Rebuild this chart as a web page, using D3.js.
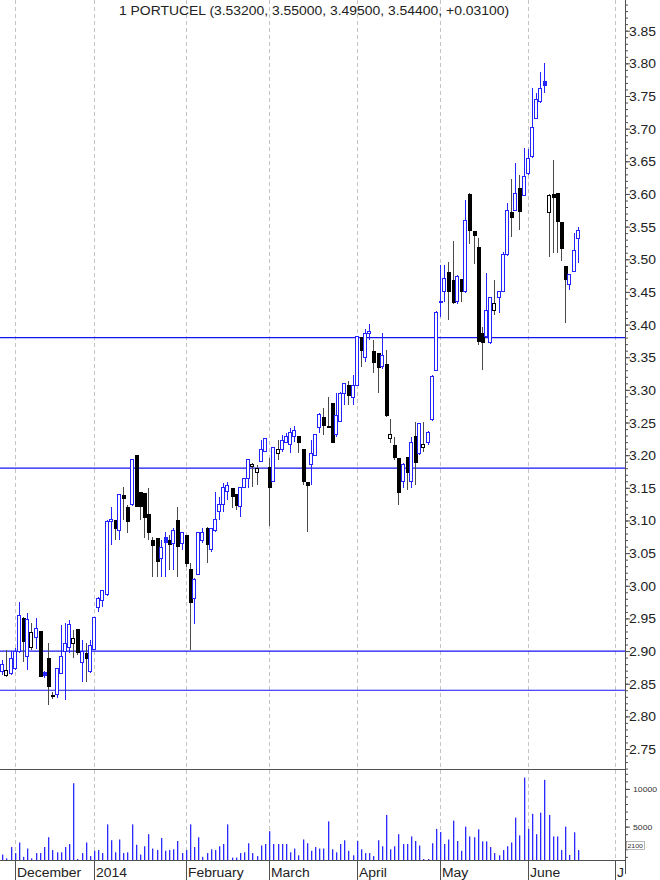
<!DOCTYPE html>
<html><head><meta charset="utf-8">
<script src="https://cdnjs.cloudflare.com/ajax/libs/d3/7.8.5/d3.min.js"></script>
<style>body{margin:0;background:#fff}svg{display:block}</style>
</head><body>
<svg id="c" width="660" height="880"></svg>
<script>
// ---------- data (bar index k starts at firstIndex; k=0 is the first December session) ----------
const symbol = "1 PORTUCEL";
const firstIndex = -3;
const opens = [2.868,2.862,2.866,2.874,2.899,2.951,2.891,2.905,2.921,2.931,2.868,2.889,2.833,2.833,2.866,2.899,2.905,2.911,2.934,2.882,2.897,2.868,2.902,2.966,2.978,2.986,3.098,3.101,3.085,3.139,3.121,3.124,3.200,3.144,3.142,3.110,3.070,3.073,3.041,3.075,3.070,3.064,3.101,3.065,3.078,3.026,2.981,3.018,3.070,3.088,3.055,3.084,3.113,3.124,3.144,3.150,3.140,3.121,3.151,3.165,3.182,3.173,3.191,3.206,3.182,3.160,3.202,3.208,3.220,3.216,3.229,3.229,3.209,3.159,3.186,3.200,3.242,3.258,3.245,3.280,3.231,3.251,3.295,3.307,3.289,3.307,3.381,3.349,3.386,3.359,3.356,3.335,3.340,3.226,3.216,3.196,3.159,3.197,3.160,3.229,3.202,3.212,3.219,3.254,3.330,3.436,3.450,3.480,3.468,3.435,3.470,3.451,3.600,3.543,3.519,3.387,3.381,3.372,3.421,3.441,3.451,3.507,3.572,3.575,3.609,3.598,3.631,3.657,3.716,3.741,3.773,3.572,3.600,3.601,3.557,3.490,3.461,3.482,3.532];
const highs = [2.886,2.902,2.900,2.905,2.975,2.952,2.958,2.943,2.951,2.931,2.870,2.912,2.837,2.874,2.940,2.943,2.948,2.932,2.934,2.917,2.912,2.917,2.951,2.983,2.993,3.101,3.121,3.101,3.140,3.151,3.124,3.193,3.200,3.144,3.142,3.150,3.075,3.073,3.070,3.082,3.078,3.088,3.121,3.081,3.078,3.035,3.012,3.081,3.088,3.090,3.088,3.144,3.136,3.157,3.159,3.150,3.140,3.150,3.165,3.194,3.188,3.185,3.223,3.225,3.196,3.212,3.223,3.231,3.234,3.242,3.245,3.229,3.209,3.159,3.223,3.232,3.265,3.272,3.289,3.280,3.295,3.297,3.309,3.314,3.323,3.382,3.381,3.393,3.401,3.376,3.356,3.387,3.361,3.255,3.228,3.196,3.188,3.197,3.228,3.251,3.249,3.251,3.237,3.323,3.421,3.491,3.491,3.496,3.528,3.476,3.470,3.591,3.601,3.543,3.532,3.396,3.479,3.441,3.468,3.450,3.511,3.586,3.623,3.647,3.629,3.670,3.669,3.762,3.754,3.787,3.801,3.600,3.652,3.601,3.557,3.490,3.476,3.540,3.550];
const lows = [2.863,2.860,2.863,2.871,2.897,2.883,2.871,2.902,2.903,2.860,2.858,2.817,2.826,2.828,2.865,2.825,2.897,2.889,2.894,2.853,2.853,2.866,2.902,2.960,2.967,2.984,3.062,3.070,3.070,3.101,3.081,3.122,3.121,3.101,3.073,3.070,3.013,3.013,3.013,3.013,3.024,3.024,3.013,3.055,3.029,2.902,2.941,3.016,3.065,3.035,3.052,3.082,3.101,3.113,3.131,3.119,3.116,3.105,3.150,3.150,3.151,3.154,3.189,3.205,3.092,3.159,3.193,3.205,3.219,3.203,3.220,3.203,3.154,3.082,3.154,3.199,3.234,3.231,3.242,3.219,3.228,3.251,3.277,3.277,3.277,3.306,3.335,3.343,3.376,3.326,3.295,3.332,3.258,3.219,3.193,3.124,3.150,3.147,3.150,3.154,3.200,3.205,3.216,3.252,3.329,3.412,3.435,3.407,3.432,3.432,3.435,3.448,3.523,3.493,3.369,3.330,3.379,3.370,3.415,3.418,3.450,3.505,3.534,3.574,3.545,3.597,3.629,3.655,3.715,3.740,3.755,3.503,3.510,3.510,3.497,3.402,3.453,3.480,3.495];
const closes = [2.879,2.871,2.889,2.899,2.954,2.914,2.948,2.929,2.935,2.860,2.862,2.845,2.830,2.873,2.891,2.912,2.941,2.920,2.897,2.899,2.888,2.909,2.951,2.980,2.993,3.099,3.101,3.087,3.140,3.133,3.098,3.193,3.121,3.121,3.104,3.081,3.061,3.036,3.059,3.065,3.062,3.084,3.059,3.081,3.033,2.974,3.010,3.081,3.082,3.062,3.088,3.101,3.124,3.151,3.153,3.136,3.122,3.150,3.165,3.194,3.185,3.180,3.208,3.225,3.150,3.212,3.208,3.223,3.228,3.235,3.238,3.219,3.159,3.153,3.203,3.231,3.263,3.245,3.242,3.219,3.261,3.295,3.309,3.290,3.306,3.381,3.359,3.387,3.389,3.341,3.333,3.352,3.260,3.231,3.196,3.142,3.186,3.173,3.219,3.188,3.248,3.217,3.235,3.321,3.418,3.433,3.470,3.450,3.433,3.473,3.450,3.560,3.543,3.536,3.373,3.372,3.421,3.441,3.433,3.450,3.507,3.574,3.563,3.601,3.572,3.627,3.654,3.702,3.744,3.762,3.765,3.598,3.594,3.557,3.516,3.468,3.476,3.513,3.544];
const volumes = [1300,800,2300,1500,2900,1000,2100,800,1500,1500,2300,3600,1900,1600,1600,2300,2700,10750,700,1500,2900,1100,1800,1900,1500,5300,3200,1600,3300,1500,1600,5300,2600,1300,2400,4000,2100,1900,3500,1800,1900,2000,3100,1500,1900,5300,2300,3600,1000,1500,2000,1900,2400,2700,5300,900,900,1500,1600,2800,1500,1100,2500,2700,4400,2700,2700,2700,2700,1600,2100,1200,3300,2800,1800,2300,2100,2100,5700,2000,1600,2700,3200,1800,1200,3100,2000,1500,1500,1100,3200,2400,6550,2000,2400,4000,2700,2700,3700,3100,2500,700,600,2800,4700,4300,2700,3300,5800,3100,1800,5000,3700,3600,4650,3050,3050,2300,1500,1200,1900,2400,2900,6200,3850,11500,4700,6700,4000,6850,11200,6550,3700,3700,1900,5000,1250,4250,1900];
const monthLabels = ["December","2014","February","March","April","May","June","July"];
const monthStartIndex = [0,19,41,61,82,102,123,144];
const levelLines = [3.38,3.18,2.90,2.84];
const priceTicks = [2.75,2.80,2.85,2.90,2.95,3.00,3.05,3.10,3.15,3.20,3.25,3.30,3.35,3.40,3.45,3.50,3.55,3.60,3.65,3.70,3.75,3.80,3.85];
const volumeTicks = [5000,10000];

// ---------- layout ----------
const W = 660, H = 880;
const axisX = 625, priceBottom = 769, volBottom = 860;
const blue = "#2424ff", lineBlue = "#1414f0", volBlue = "#2a2aff";
const FONT = "'Liberation Sans', Arial, sans-serif";
const SX = 1.16; // horizontal stretch of the reference's text

const svg = d3.select("#c");
const x = d3.scaleLinear().domain([0, 144]).range([14.8, 615.3]);
const y = d3.scaleLinear().domain([2.7194, 3.897]).range([priceBottom, 0]);
const v = d3.scaleLinear().domain([0, 10000]).range([864.4, 788.9]);

const bars = opens.map((o, i) => ({
  k: firstIndex + i, o, h: highs[i], l: lows[i], c: closes[i], vol: volumes[i],
  prev: i > 0 ? closes[i - 1] : o
}));

svg.append("defs").append("clipPath").attr("id", "plot")
  .append("rect").attr("x", 0).attr("y", 0).attr("width", axisX).attr("height", volBottom);

// month gridlines
svg.append("g").selectAll("line").data(monthStartIndex).join("line")
  .attr("x1", d => Math.round(x(d)) + 0.5).attr("x2", d => Math.round(x(d)) + 0.5)
  .attr("y1", 0).attr("y2", volBottom)
  .attr("stroke", "#c4c4c4").attr("stroke-dasharray", "4,3");

// title
const last = bars[bars.length - 1];
const chg = last.c - last.prev;
const f5 = d3.format(".5f");
svg.append("text")
  .attr("transform", `translate(314,15) scale(${SX},1)`)
  .attr("text-anchor", "middle").attr("font-family", FONT).attr("font-size", 12).attr("fill", "#222")
  .text(`${symbol} (${f5(last.o)}, ${f5(last.h)}, ${f5(last.l)}, ${f5(last.c)}, ${chg >= 0 ? "+" : ""}${f5(chg)})`);

const plot = svg.append("g").attr("clip-path", "url(#plot)");

// level lines
plot.append("g").selectAll("line").data(levelLines).join("line")
  .attr("x1", 0).attr("x2", axisX)
  .attr("y1", d => y(d)).attr("y2", d => y(d))
  .attr("stroke", lineBlue).attr("stroke-width", 1.2);

// candles
const cg = plot.append("g").attr("shape-rendering", "crispEdges");
bars.forEach(b => {
  const X = Math.round(x(b.k));
  const up = b.c > b.prev;
  const col = up ? blue : "#000";
  const wickCol = up ? blue : "#4a4a4a";
  const hollow = b.c >= b.o;
  cg.append("line").attr("x1", X + 0.5).attr("x2", X + 0.5)
    .attr("y1", y(b.h)).attr("y2", y(b.l)).attr("stroke", wickCol);
  const top = y(Math.max(b.o, b.c)), bot = y(Math.min(b.o, b.c));
  if (hollow) {
    cg.append("rect").attr("x", X - 1.5).attr("width", 3)
      .attr("y", top).attr("height", Math.max(1, bot - top))
      .attr("fill", "#fff").attr("stroke", col).attr("stroke-width", 1);
  } else {
    cg.append("rect").attr("x", X - 1.5).attr("width", 4)
      .attr("y", top).attr("height", Math.max(2, bot - top))
      .attr("fill", col);
  }
});

// volume bars
plot.append("g").selectAll("rect").data(bars).join("rect")
  .attr("x", d => Math.round(x(d.k))).attr("width", 1.3)
  .attr("y", d => Math.min(v(d.vol), volBottom - 1))
  .attr("height", d => Math.max(1, volBottom - v(d.vol)))
  .attr("fill", volBlue);

// panel frame lines
const frame = svg.append("g").attr("stroke", "#505050").attr("shape-rendering", "crispEdges");
frame.append("line").attr("x1", 0).attr("x2", axisX).attr("y1", priceBottom + 0.5).attr("y2", priceBottom + 0.5);
frame.append("line").attr("x1", 0).attr("x2", axisX + 1).attr("y1", volBottom + 0.5).attr("y2", volBottom + 0.5);
frame.append("line").attr("x1", axisX + 0.5).attr("x2", axisX + 0.5).attr("y1", 0).attr("y2", volBottom);

// price axis: minor ticks
const minor = d3.range(272, 390).map(d => d / 100);
svg.append("g").attr("transform", `translate(${axisX},0)`)
  .call(d3.axisRight(y).tickValues(minor).tickSize(3).tickFormat(""))
  .call(g => g.select(".domain").remove())
  .call(g => g.selectAll("line").attr("stroke", "#505050"));
// price axis: major ticks with labels
svg.append("g").attr("transform", `translate(${axisX},0)`)
  .call(d3.axisRight(y).tickValues(priceTicks).tickSize(5).tickPadding(0).tickFormat(d3.format(".2f")))
  .call(g => g.select(".domain").remove())
  .call(g => g.selectAll("line").attr("stroke", "#505050"))
  .call(g => g.selectAll("text")
    .attr("x", null).attr("dy", null)
    .attr("transform", `translate(4,4.5) scale(${SX},1)`)
    .attr("font-family", FONT).attr("font-size", 12).attr("fill", "#222"));

// volume axis
const vMinor = d3.range(1000, 12001, 1000);
svg.append("g").attr("transform", `translate(${axisX},0)`)
  .call(d3.axisRight(v).tickValues(vMinor).tickSize(3).tickFormat(""))
  .call(g => g.select(".domain").remove())
  .call(g => g.selectAll("line").attr("stroke", "#505050"));
svg.append("g").attr("transform", `translate(${axisX},0)`)
  .call(d3.axisRight(v).tickValues(volumeTicks).tickSize(5).tickPadding(0).tickFormat(d3.format("d")))
  .call(g => g.select(".domain").remove())
  .call(g => g.selectAll("line").attr("stroke", "#505050"))
  .call(g => g.selectAll("text")
    .attr("x", null).attr("dy", null)
    .attr("transform", `translate(8,3) scale(${SX},1)`)
    .attr("font-family", FONT).attr("font-size", 7.5).attr("fill", "#333"));

// small scale marker box
svg.append("rect").attr("x", 626.5).attr("y", 841.5).attr("width", 18).attr("height", 8)
  .attr("fill", "#fff").attr("stroke", "#888").attr("stroke-width", 0.6);
svg.append("text").attr("transform", `translate(627.5,848) scale(${SX},1)`)
  .attr("font-family", FONT).attr("font-size", 6).attr("fill", "#333").text("2100");

// month axis
const mclip = svg.append("defs").append("clipPath").attr("id", "mclip");
mclip.append("rect").attr("x", 0).attr("y", volBottom).attr("width", axisX - 1).attr("height", 20);
const mg = svg.append("g").attr("clip-path", "url(#mclip)");
mg.selectAll("line").data(monthStartIndex).join("line")
  .attr("x1", d => Math.round(x(d)) + 0.5).attr("x2", d => Math.round(x(d)) + 0.5)
  .attr("y1", volBottom).attr("y2", H).attr("stroke", "#505050");
mg.selectAll("text").data(monthStartIndex).join("text")
  .attr("transform", d => `translate(${Math.round(x(d)) + 2},877) scale(${SX},1)`)
  .attr("font-family", FONT).attr("font-size", 12).attr("fill", "#222")
  .text((d, i) => monthLabels[i]);
svg.append("line").attr("x1", axisX + 0.5).attr("x2", axisX + 0.5).attr("y1", volBottom).attr("y2", H - 6)
  .attr("stroke", "#505050");
</script>
</body></html>
